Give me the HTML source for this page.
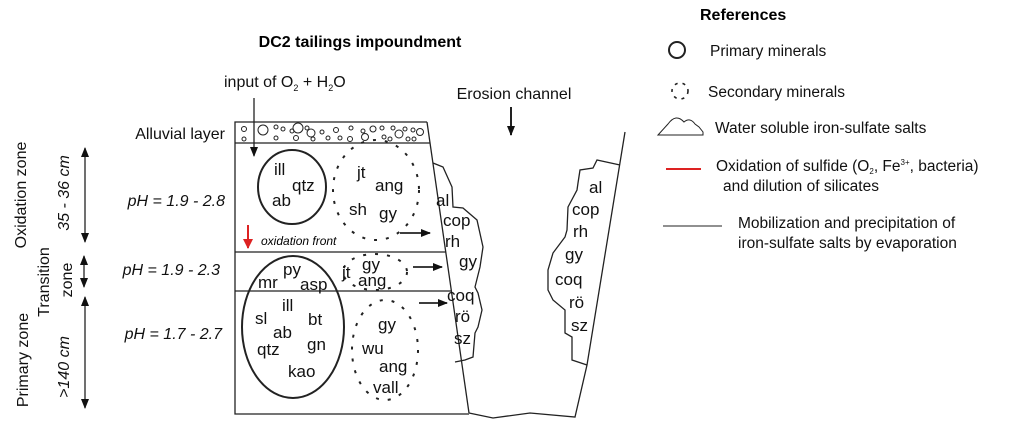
<!DOCTYPE html>
<html><head><meta charset="utf-8"><style>
html,body{margin:0;padding:0;background:#fff;}
svg{display:block;font-family:"Liberation Sans",Arial,sans-serif;}
.t{font-size:16px;fill:#111;}
.it{font-size:16px;font-style:italic;fill:#111;}
.m{font-size:17px;fill:#111;}
.l{font-size:15.5px;fill:#111;}
</style></head><body>
<svg width="1024" height="442" viewBox="0 0 1024 442" xmlns="http://www.w3.org/2000/svg">
<defs><marker id="ah" markerWidth="10" markerHeight="8" refX="9" refY="4" orient="auto-start-reverse" markerUnits="userSpaceOnUse"><path d="M0,0 L10,4 L0,8 Z" fill="#111"/></marker>
<marker id="ahr" markerWidth="10" markerHeight="10" refX="9" refY="5" orient="auto" markerUnits="userSpaceOnUse"><path d="M0,0 L10,5 L0,10 Z" fill="#d22"/></marker></defs>
<g stroke="#222" stroke-width="1.3" fill="none">
<polyline points="427,122 235,122 235,414 469,414"/>
<line x1="427" y1="122" x2="469" y2="413"/>
<line x1="235" y1="143" x2="430" y2="143"/>
<line x1="235" y1="252" x2="446" y2="252"/>
<line x1="235" y1="291" x2="452" y2="291"/>
<polyline points="469,413 493,418 530,413 575,417 587,365 625,132"/>
<path d="M433,163 L443,167 L452,187 L453,207 L463,208 L477,220 L483,247 L480,267 L475,287 L478,293 L482,310 L478,327 L475,333 L473,357 L465,360 L455,362"/>
<path d="M620,165 L597,160 L593,168 L580,170 L578,183 L577,190 L568,207 L567,230 L565,237 L553,253 L548,270 L548,290 L553,300 L565,310 L565,333 L572,337 L572,360 L587,365"/>
<g stroke-width="1">
<circle cx="244" cy="129" r="2.5"/><circle cx="244" cy="139" r="2"/><circle cx="263" cy="130" r="5"/><circle cx="276" cy="127" r="2"/><circle cx="276" cy="138" r="2"/><circle cx="283" cy="129" r="2"/><circle cx="292" cy="131" r="2"/><circle cx="298" cy="128" r="5"/><circle cx="296" cy="138" r="2.5"/><circle cx="307" cy="128" r="2"/><circle cx="311" cy="133" r="4"/><circle cx="313" cy="139" r="2"/><circle cx="322" cy="132" r="2"/><circle cx="328" cy="138" r="2"/><circle cx="336" cy="130" r="2.5"/><circle cx="340" cy="138" r="2"/><circle cx="351" cy="128" r="2"/><circle cx="350" cy="139" r="2.5"/><circle cx="363" cy="131" r="2"/><circle cx="365" cy="137" r="3.5"/><circle cx="373" cy="129" r="3"/><circle cx="382" cy="128" r="2"/><circle cx="384" cy="137" r="2"/><circle cx="390" cy="139" r="2"/><circle cx="393" cy="128" r="2"/><circle cx="399" cy="134" r="4"/><circle cx="405" cy="129" r="2"/><circle cx="408" cy="139" r="2"/><circle cx="413" cy="130" r="2"/><circle cx="420" cy="132" r="3.5"/><circle cx="414" cy="139" r="2"/>
</g>
<ellipse cx="292" cy="187" rx="34" ry="37" stroke-width="2"/>
<ellipse cx="293" cy="327" rx="51" ry="71" stroke-width="2"/>
<g stroke-width="2" stroke-dasharray="3 9">
<ellipse cx="376" cy="190" rx="43" ry="50"/>
<ellipse cx="375" cy="272" rx="32" ry="18"/>
<ellipse cx="385" cy="350" rx="33" ry="50"/>
</g>
<circle cx="680" cy="91" r="8" stroke-width="1.6" stroke-dasharray="3 5"/>
<circle cx="677" cy="50" r="8" stroke-width="2"/>
<path d="M658,135 L668,124 Q676,113 684,122 Q690,117 695,124 L699,127 L703,132 L703,135 Z" stroke-width="1"/>
<line x1="254" y1="98" x2="254" y2="156" marker-end="url(#ah)"/>
<line x1="511" y1="107" x2="511" y2="135" stroke-width="2" marker-end="url(#ah)"/>
<line x1="400" y1="233" x2="430" y2="233" stroke-width="1.8" marker-end="url(#ah)"/>
<line x1="413" y1="267" x2="442" y2="267" stroke-width="1.8" marker-end="url(#ah)"/>
<line x1="419" y1="303" x2="447" y2="303" stroke-width="1.8" marker-end="url(#ah)"/>
<line x1="85" y1="148" x2="85" y2="242" marker-end="url(#ah)" marker-start="url(#ah)"/>
<line x1="84" y1="256" x2="84" y2="287" marker-end="url(#ah)" marker-start="url(#ah)"/>
<line x1="85" y1="297" x2="85" y2="408" marker-end="url(#ah)" marker-start="url(#ah)"/>
<line x1="663" y1="226" x2="722" y2="226" stroke-width="1"/>
</g>
<line x1="248" y1="225" x2="248" y2="248" stroke="#d22" stroke-width="2" marker-end="url(#ahr)"/>
<line x1="666" y1="169" x2="701" y2="169" stroke="#d22" stroke-width="2"/>
<text x="360" y="47" text-anchor="middle" style="font-size:16px;font-weight:bold">DC2 tailings impoundment</text>
<text x="224" y="87" class="t">input of O<tspan font-size="9" dy="4">2</tspan><tspan dy="-4"> + H</tspan><tspan font-size="9" dy="4">2</tspan><tspan dy="-4">O</tspan></text>
<text x="225" y="139" class="t" text-anchor="end">Alluvial layer</text>
<text x="514" y="99" class="t" text-anchor="middle">Erosion channel</text>
<text class="t" transform="translate(26,195) rotate(-90)" text-anchor="middle">Oxidation zone</text>
<text class="it" transform="translate(69,193) rotate(-90)" text-anchor="middle">35 - 36 cm</text>
<text class="t" transform="translate(49,282) rotate(-90)" text-anchor="middle">Transition</text>
<text class="t" transform="translate(72,280) rotate(-90)" text-anchor="middle">zone</text>
<text class="t" transform="translate(28,360) rotate(-90)" text-anchor="middle">Primary zone</text>
<text class="it" transform="translate(69,367) rotate(-90)" text-anchor="middle">&gt;140 cm</text>
<text x="225" y="206" class="it" text-anchor="end">pH = 1.9 - 2.8</text>
<text x="220" y="275" class="it" text-anchor="end">pH = 1.9 - 2.3</text>
<text x="222" y="339" class="it" text-anchor="end">pH = 1.7 - 2.7</text>
<text x="261" y="245" style="font-size:12px;font-style:italic">oxidation front</text>
<g class="m">
<text x="274" y="175">ill</text><text x="292" y="191">qtz</text><text x="272" y="206">ab</text>
<text x="357" y="178">jt</text><text x="375" y="191">ang</text><text x="349" y="215">sh</text><text x="379" y="219">gy</text>
<text x="283" y="275">py</text><text x="258" y="288">mr</text><text x="300" y="290">asp</text>
<text x="342" y="278">jt</text><text x="362" y="270">gy</text><text x="358" y="286">ang</text>
<text x="282" y="311">ill</text><text x="255" y="324">sl</text><text x="308" y="325">bt</text><text x="273" y="338">ab</text><text x="307" y="350">gn</text><text x="257" y="355">qtz</text><text x="288" y="377">kao</text>
<text x="378" y="330">gy</text><text x="362" y="354">wu</text><text x="379" y="372">ang</text><text x="373" y="393">vall</text>
<text x="436" y="206">al</text><text x="443" y="226">cop</text><text x="445" y="247">rh</text><text x="459" y="267">gy</text><text x="447" y="301">coq</text><text x="455" y="322">rö</text><text x="454" y="344">sz</text>
<text x="589" y="193">al</text><text x="572" y="215">cop</text><text x="573" y="237">rh</text><text x="565" y="260">gy</text><text x="555" y="285">coq</text><text x="569" y="308">rö</text><text x="571" y="331">sz</text>
</g>
<text x="700" y="20" style="font-size:16px;font-weight:bold">References</text>
<g class="l">
<text x="710" y="56">Primary minerals</text>
<text x="708" y="97">Secondary minerals</text>
<text x="715" y="133">Water soluble iron-sulfate salts</text>
<text x="716" y="171">Oxidation of sulfide (O<tspan font-size="8" dy="3">2</tspan><tspan dy="-3">, Fe</tspan><tspan font-size="8" dy="-6">3+</tspan><tspan dy="6">, bacteria)</tspan></text>
<text x="801" y="191" text-anchor="middle">and dilution of silicates</text>
<text x="738" y="228">Mobilization and precipitation of</text>
<text x="738" y="248">iron-sulfate salts by evaporation</text>
</g>
</svg>
</body></html>
